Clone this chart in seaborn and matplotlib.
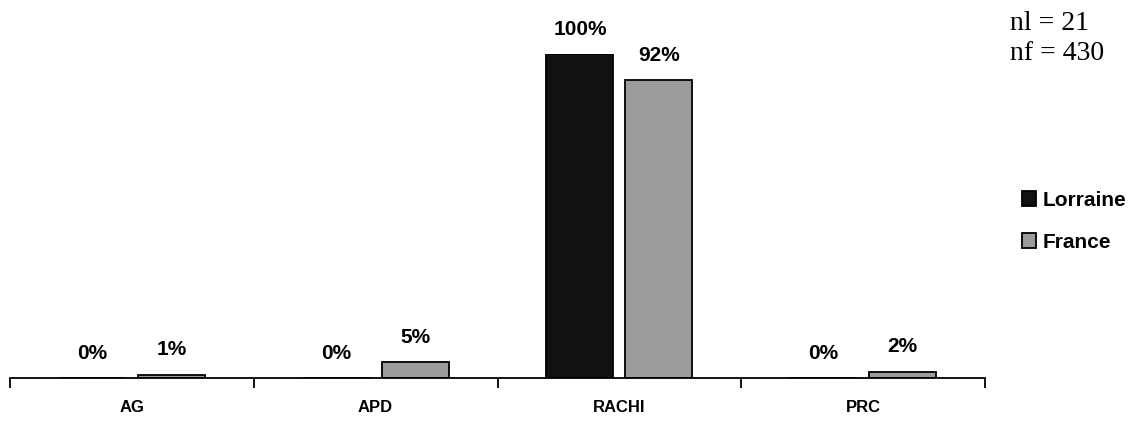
import pandas as pd
import seaborn as sns
import matplotlib.pyplot as plt

# Values
categories = ["AG", "APD", "RACHI", "PRC"]
lorraine = [0, 0, 100, 0]
france = [1, 5, 92, 2]
n_lorraine = 21
n_france = 430

df = pd.DataFrame({
    "cat": categories * 2,
    "val": lorraine + france,
    "region": ["Lorraine"] * 4 + ["France"] * 4,
})

sns.set_style("white")
plt.rcParams["font.family"] = ["Liberation Sans", "DejaVu Sans"]
plt.rcParams["text.color"] = "black"
plt.rcParams["xtick.color"] = "black"
plt.rcParams["hatch.color"] = "#d8d8d8"

fig = plt.figure(figsize=(11.37, 4.21), dpi=100)
ax = fig.add_axes([10 / 1137, 43 / 421, 975 / 1137, 324 / 421])

sns.barplot(data=df, x="cat", y="val", hue="region", ax=ax,
            palette={"Lorraine": "#111111", "France": "#9c9c9c"},
            width=0.648, gap=0.15, edgecolor="black", linewidth=1.3,
            legend=True)

# Percent labels above bars
for cont in ax.containers:
    ax.bar_label(cont, fmt="{:.0f}%", padding=11, fontsize=15,
                 fontweight="bold", color="black", clip_on=False)

ax.set_xlim(-0.5, 3.5)
ax.set_ylim(0, 100)
ax.set_xlabel("")
ax.set_ylabel("")
ax.set_yticks([])
for side in ["left", "right", "top"]:
    ax.spines[side].set_visible(False)
ax.spines["bottom"].set_linewidth(1.3)
ax.spines["bottom"].set_color("black")

# category labels without ticks, boundary ticks as minor ticks
ax.set_xticks(range(4))
ax.set_xticklabels(categories, fontsize=12, fontweight="bold")
ax.tick_params(axis="x", which="major", length=0, pad=16,
               labelcolor="black")
ax.set_xticks([-0.5, 0.5, 1.5, 2.5, 3.5], minor=True)
ax.tick_params(axis="x", which="minor", length=7, width=1.3,
               direction="out", color="black", bottom=True)

# Legend on the right
handles, labels = ax.get_legend_handles_labels()
ax.get_legend().remove()
fig.legend(handles, labels, loc="upper left",
           bbox_to_anchor=(1003 / 1137, 1 - 172 / 421),
           frameon=False, handlelength=0.7, handleheight=0.7,
           handletextpad=0.3, labelspacing=1.1,
           prop={"weight": "bold", "size": 15})

fig.text(1010 / 1137, 1 - 23 / 421, f"nl = {n_lorraine}",
         family="Liberation Serif", fontsize=20, va="center")
fig.text(1010 / 1137, 1 - 53 / 421, f"nf = {n_france}",
         family="Liberation Serif", fontsize=20, va="center")

fig.savefig("out.png", dpi=100)
